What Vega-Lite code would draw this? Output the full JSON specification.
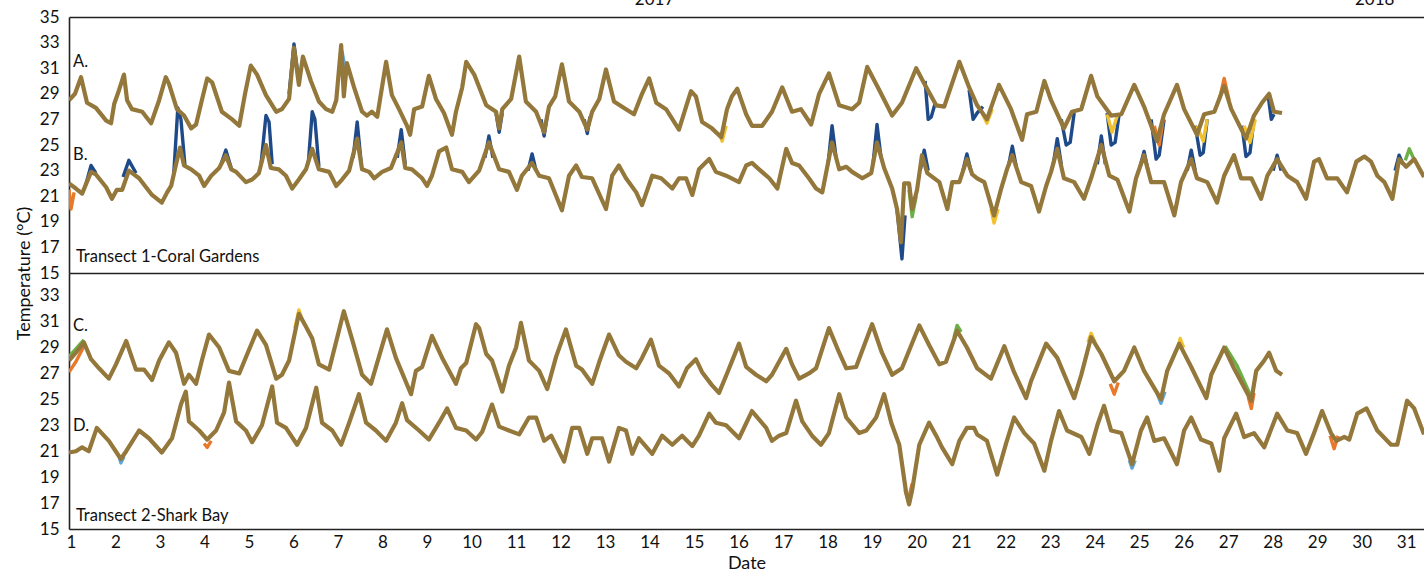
{
  "$schema": "https://vega.github.io/schema/vega-lite/v6.json",
  "padding": {"left": 15, "top": -10, "right": 0, "bottom": 0},
  "background": "white",
  "spacing": 0,
  "bounds": "flush",
  "config": {
    "view": {"stroke": null},
    "font": "Lato",
    "axis": {"labelFont": "Lato", "titleFont": "Lato", "labelFontSize": 17, "titleFontSize": 18, "labelColor": "#111", "titleColor": "#111", "titleFontWeight": "normal", "grid": false, "ticks": false, "tickSize": 0, "domainColor": "#222", "domainWidth": 1.6}
  },
  "datasets": {
    "main": [
      {"s":"A","d":0.955,"t":28.5},{"s":"A","d":1.09,"t":29.0},{"s":"A","d":1.225,"t":30.3},{"s":"A","d":1.36,"t":28.3},{"s":"A","d":1.56,"t":27.9},{"s":"A","d":1.79,"t":26.9},{"s":"A","d":1.90,"t":26.7},{"s":"A","d":1.97,"t":28.2},{"s":"A","d":2.08,"t":29.3},{"s":"A","d":2.19,"t":30.5},{"s":"A","d":2.26,"t":28.5},{"s":"A","d":2.37,"t":27.8},{"s":"A","d":2.60,"t":27.6},{"s":"A","d":2.80,"t":26.7},{"s":"A","d":2.98,"t":28.5},{"s":"A","d":3.13,"t":30.3},{"s":"A","d":3.20,"t":29.8},{"s":"A","d":3.38,"t":27.8},{"s":"A","d":3.54,"t":27.3},{"s":"A","d":3.70,"t":26.3},{"s":"A","d":3.81,"t":26.6},{"s":"A","d":3.94,"t":28.5},{"s":"A","d":4.06,"t":30.2},{"s":"A","d":4.17,"t":29.9},{"s":"A","d":4.39,"t":27.6},{"s":"A","d":4.62,"t":27.0},{"s":"A","d":4.78,"t":26.5},{"s":"A","d":4.91,"t":29.0},{"s":"A","d":5.04,"t":31.2},{"s":"A","d":5.18,"t":30.5},{"s":"A","d":5.38,"t":28.9},{"s":"A","d":5.61,"t":27.6},{"s":"A","d":5.74,"t":27.8},{"s":"A","d":5.90,"t":28.6},{"s":"A","d":6.01,"t":32.6},{"s":"A","d":6.12,"t":29.7},{"s":"A","d":6.21,"t":31.9},{"s":"A","d":6.39,"t":30.0},{"s":"A","d":6.57,"t":28.4},{"s":"A","d":6.73,"t":27.8},{"s":"A","d":6.87,"t":27.6},{"s":"A","d":6.96,"t":28.5},{"s":"A","d":7.07,"t":32.8},{"s":"A","d":7.13,"t":28.8},{"s":"A","d":7.20,"t":31.4},{"s":"A","d":7.36,"t":29.5},{"s":"A","d":7.54,"t":27.6},{"s":"A","d":7.65,"t":27.3},{"s":"A","d":7.76,"t":27.6},{"s":"A","d":7.88,"t":27.2},{"s":"A","d":8.08,"t":31.5},{"s":"A","d":8.21,"t":28.9},{"s":"A","d":8.37,"t":27.8},{"s":"A","d":8.55,"t":26.5},{"s":"A","d":8.62,"t":25.8},{"s":"A","d":8.71,"t":27.8},{"s":"A","d":8.89,"t":28.0},{"s":"A","d":9.04,"t":30.4},{"s":"A","d":9.20,"t":28.6},{"s":"A","d":9.38,"t":27.5},{"s":"A","d":9.56,"t":25.8},{"s":"A","d":9.65,"t":27.6},{"s":"A","d":9.79,"t":29.5},{"s":"A","d":9.88,"t":31.5},{"s":"A","d":10.06,"t":30.5},{"s":"A","d":10.33,"t":28.1},{"s":"A","d":10.55,"t":27.6},{"s":"A","d":10.62,"t":26.3},{"s":"A","d":10.69,"t":27.8},{"s":"A","d":10.89,"t":28.6},{"s":"A","d":11.07,"t":31.9},{"s":"A","d":11.22,"t":28.4},{"s":"A","d":11.45,"t":27.6},{"s":"A","d":11.63,"t":26.0},{"s":"A","d":11.74,"t":28.0},{"s":"A","d":11.88,"t":28.8},{"s":"A","d":12.03,"t":31.3},{"s":"A","d":12.19,"t":28.4},{"s":"A","d":12.42,"t":27.6},{"s":"A","d":12.60,"t":26.2},{"s":"A","d":12.71,"t":27.6},{"s":"A","d":12.87,"t":28.6},{"s":"A","d":13.02,"t":30.9},{"s":"A","d":13.20,"t":28.4},{"s":"A","d":13.47,"t":27.8},{"s":"A","d":13.65,"t":27.4},{"s":"A","d":13.83,"t":29.0},{"s":"A","d":13.99,"t":30.2},{"s":"A","d":14.15,"t":28.3},{"s":"A","d":14.37,"t":27.8},{"s":"A","d":14.66,"t":26.2},{"s":"A","d":14.82,"t":28.0},{"s":"A","d":14.93,"t":29.2},{"s":"A","d":15.04,"t":28.8},{"s":"A","d":15.18,"t":26.8},{"s":"A","d":15.40,"t":26.3},{"s":"A","d":15.61,"t":25.6},{"s":"A","d":15.74,"t":27.8},{"s":"A","d":15.85,"t":28.8},{"s":"A","d":15.97,"t":29.4},{"s":"A","d":16.17,"t":27.4},{"s":"A","d":16.30,"t":26.5},{"s":"A","d":16.53,"t":26.5},{"s":"A","d":16.75,"t":27.6},{"s":"A","d":16.98,"t":29.5},{"s":"A","d":17.20,"t":27.6},{"s":"A","d":17.40,"t":27.8},{"s":"A","d":17.63,"t":26.6},{"s":"A","d":17.81,"t":29.0},{"s":"A","d":18.03,"t":30.6},{"s":"A","d":18.26,"t":28.1},{"s":"A","d":18.55,"t":27.8},{"s":"A","d":18.71,"t":28.3},{"s":"A","d":18.89,"t":31.1},{"s":"A","d":19.16,"t":29.3},{"s":"A","d":19.45,"t":27.3},{"s":"A","d":19.67,"t":28.3},{"s":"A","d":19.99,"t":31.0},{"s":"A","d":20.17,"t":29.8},{"s":"A","d":20.44,"t":28.1},{"s":"A","d":20.62,"t":28.0},{"s":"A","d":20.96,"t":31.5},{"s":"A","d":21.18,"t":29.5},{"s":"A","d":21.36,"t":28.1},{"s":"A","d":21.58,"t":27.0},{"s":"A","d":21.85,"t":29.7},{"s":"A","d":22.12,"t":27.8},{"s":"A","d":22.37,"t":25.4},{"s":"A","d":22.48,"t":27.4},{"s":"A","d":22.69,"t":27.6},{"s":"A","d":22.87,"t":30.0},{"s":"A","d":23.02,"t":28.5},{"s":"A","d":23.31,"t":26.3},{"s":"A","d":23.49,"t":27.6},{"s":"A","d":23.70,"t":27.8},{"s":"A","d":23.92,"t":30.4},{"s":"A","d":24.06,"t":28.8},{"s":"A","d":24.37,"t":27.3},{"s":"A","d":24.60,"t":27.4},{"s":"A","d":24.89,"t":29.7},{"s":"A","d":25.11,"t":28.0},{"s":"A","d":25.40,"t":25.3},{"s":"A","d":25.56,"t":27.4},{"s":"A","d":25.85,"t":29.7},{"s":"A","d":26.01,"t":27.8},{"s":"A","d":26.30,"t":25.8},{"s":"A","d":26.46,"t":27.4},{"s":"A","d":26.69,"t":27.6},{"s":"A","d":26.91,"t":29.6},{"s":"A","d":27.07,"t":27.8},{"s":"A","d":27.40,"t":25.5},{"s":"A","d":27.58,"t":27.3},{"s":"A","d":27.76,"t":28.3},{"s":"A","d":27.92,"t":29.0},{"s":"A","d":28.03,"t":27.6},{"s":"A","d":28.21,"t":27.5},

      {"s":"B","d":0.955,"t":22.0},{"s":"B","d":1.11,"t":21.6},{"s":"B","d":1.25,"t":21.2},{"s":"B","d":1.45,"t":22.9},{"s":"B","d":1.56,"t":22.7},{"s":"B","d":1.79,"t":21.7},{"s":"B","d":1.92,"t":20.8},{"s":"B","d":2.03,"t":21.5},{"s":"B","d":2.15,"t":21.5},{"s":"B","d":2.30,"t":23.0},{"s":"B","d":2.53,"t":22.4},{"s":"B","d":2.82,"t":21.1},{"s":"B","d":3.04,"t":20.5},{"s":"B","d":3.16,"t":21.3},{"s":"B","d":3.25,"t":21.8},{"s":"B","d":3.36,"t":23.5},{"s":"B","d":3.45,"t":24.8},{"s":"B","d":3.54,"t":23.4},{"s":"B","d":3.70,"t":23.1},{"s":"B","d":3.88,"t":22.6},{"s":"B","d":3.99,"t":21.8},{"s":"B","d":4.15,"t":22.6},{"s":"B","d":4.33,"t":23.2},{"s":"B","d":4.48,"t":24.2},{"s":"B","d":4.60,"t":23.1},{"s":"B","d":4.71,"t":22.9},{"s":"B","d":4.93,"t":22.1},{"s":"B","d":5.07,"t":22.3},{"s":"B","d":5.22,"t":22.8},{"s":"B","d":5.38,"t":25.0},{"s":"B","d":5.49,"t":23.2},{"s":"B","d":5.67,"t":23.1},{"s":"B","d":5.83,"t":22.6},{"s":"B","d":5.97,"t":21.6},{"s":"B","d":6.12,"t":22.3},{"s":"B","d":6.28,"t":23.1},{"s":"B","d":6.42,"t":24.7},{"s":"B","d":6.57,"t":23.1},{"s":"B","d":6.80,"t":22.9},{"s":"B","d":6.96,"t":21.8},{"s":"B","d":7.09,"t":22.3},{"s":"B","d":7.25,"t":23.0},{"s":"B","d":7.43,"t":25.5},{"s":"B","d":7.54,"t":23.1},{"s":"B","d":7.70,"t":22.9},{"s":"B","d":7.81,"t":22.4},{"s":"B","d":7.99,"t":22.9},{"s":"B","d":8.19,"t":23.2},{"s":"B","d":8.42,"t":25.2},{"s":"B","d":8.51,"t":23.2},{"s":"B","d":8.66,"t":23.1},{"s":"B","d":8.89,"t":22.4},{"s":"B","d":9.00,"t":21.8},{"s":"B","d":9.11,"t":22.6},{"s":"B","d":9.27,"t":24.5},{"s":"B","d":9.43,"t":24.8},{"s":"B","d":9.56,"t":23.1},{"s":"B","d":9.79,"t":22.9},{"s":"B","d":9.94,"t":22.1},{"s":"B","d":10.17,"t":23.0},{"s":"B","d":10.39,"t":25.2},{"s":"B","d":10.62,"t":23.1},{"s":"B","d":10.84,"t":22.9},{"s":"B","d":11.02,"t":21.5},{"s":"B","d":11.13,"t":22.6},{"s":"B","d":11.36,"t":23.6},{"s":"B","d":11.52,"t":22.6},{"s":"B","d":11.74,"t":22.4},{"s":"B","d":12.03,"t":19.9},{"s":"B","d":12.19,"t":22.6},{"s":"B","d":12.35,"t":23.4},{"s":"B","d":12.48,"t":22.5},{"s":"B","d":12.71,"t":22.4},{"s":"B","d":13.02,"t":20.0},{"s":"B","d":13.16,"t":22.6},{"s":"B","d":13.31,"t":23.4},{"s":"B","d":13.47,"t":22.4},{"s":"B","d":13.70,"t":21.3},{"s":"B","d":13.83,"t":20.3},{"s":"B","d":14.06,"t":22.6},{"s":"B","d":14.26,"t":22.4},{"s":"B","d":14.51,"t":21.6},{"s":"B","d":14.66,"t":22.4},{"s":"B","d":14.82,"t":22.4},{"s":"B","d":14.96,"t":21.1},{"s":"B","d":15.11,"t":23.1},{"s":"B","d":15.34,"t":23.9},{"s":"B","d":15.49,"t":22.9},{"s":"B","d":15.72,"t":22.6},{"s":"B","d":16.01,"t":22.1},{"s":"B","d":16.17,"t":23.4},{"s":"B","d":16.30,"t":23.6},{"s":"B","d":16.46,"t":23.1},{"s":"B","d":16.69,"t":22.4},{"s":"B","d":16.87,"t":21.6},{"s":"B","d":17.07,"t":24.7},{"s":"B","d":17.20,"t":23.6},{"s":"B","d":17.36,"t":23.4},{"s":"B","d":17.58,"t":22.4},{"s":"B","d":17.74,"t":21.6},{"s":"B","d":17.88,"t":21.3},{"s":"B","d":18.10,"t":25.2},{"s":"B","d":18.26,"t":23.1},{"s":"B","d":18.42,"t":23.3},{"s":"B","d":18.55,"t":22.9},{"s":"B","d":18.78,"t":22.4},{"s":"B","d":18.98,"t":22.8},{"s":"B","d":19.11,"t":25.2},{"s":"B","d":19.27,"t":23.2},{"s":"B","d":19.45,"t":21.6},{"s":"B","d":19.56,"t":20.0},{"s":"B","d":19.65,"t":17.4},{"s":"B","d":19.72,"t":22.0},{"s":"B","d":19.83,"t":22.0},{"s":"B","d":19.90,"t":20.0},{"s":"B","d":20.01,"t":21.5},{"s":"B","d":20.12,"t":24.2},{"s":"B","d":20.24,"t":22.8},{"s":"B","d":20.51,"t":22.1},{"s":"B","d":20.69,"t":20.0},{"s":"B","d":20.80,"t":22.1},{"s":"B","d":20.96,"t":22.1},{"s":"B","d":21.13,"t":23.9},{"s":"B","d":21.25,"t":22.7},{"s":"B","d":21.36,"t":22.4},{"s":"B","d":21.52,"t":22.1},{"s":"B","d":21.74,"t":19.5},{"s":"B","d":21.90,"t":21.6},{"s":"B","d":22.03,"t":23.1},{"s":"B","d":22.15,"t":24.2},{"s":"B","d":22.35,"t":22.1},{"s":"B","d":22.57,"t":21.8},{"s":"B","d":22.75,"t":19.8},{"s":"B","d":22.91,"t":21.8},{"s":"B","d":23.02,"t":22.9},{"s":"B","d":23.16,"t":24.7},{"s":"B","d":23.31,"t":22.4},{"s":"B","d":23.54,"t":22.1},{"s":"B","d":23.76,"t":20.8},{"s":"B","d":23.92,"t":22.4},{"s":"B","d":24.15,"t":25.0},{"s":"B","d":24.33,"t":22.6},{"s":"B","d":24.51,"t":22.3},{"s":"B","d":24.78,"t":19.8},{"s":"B","d":24.93,"t":22.4},{"s":"B","d":25.11,"t":24.2},{"s":"B","d":25.27,"t":22.1},{"s":"B","d":25.56,"t":22.1},{"s":"B","d":25.79,"t":19.5},{"s":"B","d":25.94,"t":22.1},{"s":"B","d":26.17,"t":23.9},{"s":"B","d":26.30,"t":22.4},{"s":"B","d":26.53,"t":22.1},{"s":"B","d":26.75,"t":20.5},{"s":"B","d":26.91,"t":22.6},{"s":"B","d":27.13,"t":24.2},{"s":"B","d":27.29,"t":22.4},{"s":"B","d":27.52,"t":22.4},{"s":"B","d":27.74,"t":20.8},{"s":"B","d":27.88,"t":22.6},{"s":"B","d":28.10,"t":23.9},{"s":"B","d":28.33,"t":22.6},{"s":"B","d":28.55,"t":22.1},{"s":"B","d":28.75,"t":20.8},{"s":"B","d":28.93,"t":23.7},{"s":"B","d":29.04,"t":23.9},{"s":"B","d":29.22,"t":22.4},{"s":"B","d":29.45,"t":22.4},{"s":"B","d":29.67,"t":21.3},{"s":"B","d":29.88,"t":23.7},{"s":"B","d":30.06,"t":24.1},{"s":"B","d":30.21,"t":23.7},{"s":"B","d":30.35,"t":22.6},{"s":"B","d":30.51,"t":22.1},{"s":"B","d":30.69,"t":20.8},{"s":"B","d":30.84,"t":23.9},{"s":"B","d":31.00,"t":23.3},{"s":"B","d":31.18,"t":23.9},{"s":"B","d":31.40,"t":22.5},

      {"s":"C","d":0.955,"t":28.0},{"s":"C","d":1.11,"t":28.6},{"s":"C","d":1.29,"t":29.4},{"s":"C","d":1.45,"t":28.1},{"s":"C","d":1.63,"t":27.4},{"s":"C","d":1.85,"t":26.6},{"s":"C","d":2.01,"t":27.7},{"s":"C","d":2.24,"t":29.5},{"s":"C","d":2.46,"t":27.3},{"s":"C","d":2.64,"t":27.3},{"s":"C","d":2.82,"t":26.5},{"s":"C","d":2.98,"t":28.0},{"s":"C","d":3.20,"t":29.4},{"s":"C","d":3.36,"t":28.6},{"s":"C","d":3.54,"t":26.2},{"s":"C","d":3.65,"t":26.9},{"s":"C","d":3.81,"t":26.2},{"s":"C","d":3.94,"t":28.0},{"s":"C","d":4.10,"t":30.0},{"s":"C","d":4.33,"t":29.0},{"s":"C","d":4.55,"t":27.2},{"s":"C","d":4.78,"t":27.0},{"s":"C","d":4.96,"t":28.5},{"s":"C","d":5.18,"t":30.3},{"s":"C","d":5.38,"t":29.2},{"s":"C","d":5.61,"t":26.6},{"s":"C","d":5.74,"t":26.9},{"s":"C","d":5.90,"t":28.0},{"s":"C","d":6.12,"t":31.6},{"s":"C","d":6.28,"t":30.6},{"s":"C","d":6.42,"t":29.7},{"s":"C","d":6.57,"t":27.7},{"s":"C","d":6.80,"t":27.3},{"s":"C","d":7.13,"t":31.8},{"s":"C","d":7.31,"t":29.7},{"s":"C","d":7.54,"t":26.9},{"s":"C","d":7.74,"t":26.2},{"s":"C","d":7.92,"t":28.3},{"s":"C","d":8.10,"t":30.4},{"s":"C","d":8.30,"t":28.2},{"s":"C","d":8.64,"t":25.4},{"s":"C","d":8.75,"t":27.2},{"s":"C","d":8.89,"t":27.5},{"s":"C","d":9.11,"t":29.9},{"s":"C","d":9.34,"t":28.2},{"s":"C","d":9.65,"t":26.2},{"s":"C","d":9.76,"t":27.4},{"s":"C","d":9.88,"t":27.8},{"s":"C","d":10.10,"t":30.8},{"s":"C","d":10.17,"t":30.5},{"s":"C","d":10.33,"t":28.5},{"s":"C","d":10.46,"t":28.0},{"s":"C","d":10.69,"t":25.6},{"s":"C","d":10.84,"t":27.6},{"s":"C","d":11.00,"t":29.0},{"s":"C","d":11.11,"t":30.9},{"s":"C","d":11.29,"t":28.0},{"s":"C","d":11.52,"t":27.2},{"s":"C","d":11.70,"t":25.8},{"s":"C","d":11.90,"t":28.3},{"s":"C","d":12.12,"t":30.4},{"s":"C","d":12.35,"t":27.6},{"s":"C","d":12.48,"t":27.3},{"s":"C","d":12.71,"t":26.2},{"s":"C","d":12.87,"t":27.9},{"s":"C","d":13.09,"t":30.0},{"s":"C","d":13.31,"t":28.4},{"s":"C","d":13.47,"t":27.9},{"s":"C","d":13.70,"t":27.4},{"s":"C","d":13.83,"t":28.2},{"s":"C","d":14.03,"t":29.6},{"s":"C","d":14.21,"t":27.6},{"s":"C","d":14.44,"t":27.0},{"s":"C","d":14.66,"t":26.0},{"s":"C","d":14.84,"t":27.4},{"s":"C","d":15.04,"t":28.1},{"s":"C","d":15.18,"t":27.1},{"s":"C","d":15.40,"t":26.1},{"s":"C","d":15.56,"t":25.5},{"s":"C","d":15.74,"t":27.0},{"s":"C","d":16.01,"t":29.3},{"s":"C","d":16.17,"t":27.5},{"s":"C","d":16.39,"t":26.9},{"s":"C","d":16.62,"t":26.4},{"s":"C","d":16.75,"t":26.9},{"s":"C","d":17.07,"t":28.9},{"s":"C","d":17.20,"t":27.7},{"s":"C","d":17.36,"t":26.6},{"s":"C","d":17.58,"t":27.0},{"s":"C","d":17.74,"t":27.4},{"s":"C","d":18.03,"t":30.5},{"s":"C","d":18.26,"t":28.6},{"s":"C","d":18.42,"t":27.4},{"s":"C","d":18.64,"t":27.5},{"s":"C","d":19.00,"t":30.8},{"s":"C","d":19.22,"t":28.6},{"s":"C","d":19.45,"t":26.9},{"s":"C","d":19.67,"t":27.4},{"s":"C","d":20.06,"t":30.7},{"s":"C","d":20.28,"t":29.2},{"s":"C","d":20.51,"t":27.7},{"s":"C","d":20.66,"t":27.9},{"s":"C","d":20.91,"t":30.3},{"s":"C","d":21.13,"t":29.0},{"s":"C","d":21.36,"t":27.4},{"s":"C","d":21.67,"t":26.6},{"s":"C","d":21.97,"t":29.1},{"s":"C","d":22.19,"t":27.1},{"s":"C","d":22.46,"t":25.1},{"s":"C","d":22.57,"t":26.4},{"s":"C","d":22.91,"t":29.3},{"s":"C","d":23.16,"t":28.2},{"s":"C","d":23.54,"t":25.1},{"s":"C","d":23.70,"t":26.9},{"s":"C","d":23.92,"t":29.8},{"s":"C","d":24.15,"t":28.5},{"s":"C","d":24.44,"t":26.4},{"s":"C","d":24.66,"t":27.2},{"s":"C","d":24.89,"t":29.0},{"s":"C","d":25.11,"t":27.2},{"s":"C","d":25.49,"t":25.0},{"s":"C","d":25.63,"t":27.2},{"s":"C","d":25.90,"t":29.3},{"s":"C","d":26.17,"t":27.5},{"s":"C","d":26.51,"t":25.1},{"s":"C","d":26.62,"t":26.9},{"s":"C","d":26.91,"t":29.0},{"s":"C","d":27.13,"t":27.4},{"s":"C","d":27.52,"t":24.9},{"s":"C","d":27.63,"t":27.2},{"s":"C","d":27.81,"t":28.0},{"s":"C","d":27.92,"t":28.6},{"s":"C","d":28.08,"t":27.2},{"s":"C","d":28.21,"t":26.9},

      {"s":"D","d":0.955,"t":20.9},{"s":"D","d":1.11,"t":21.0},{"s":"D","d":1.25,"t":21.3},{"s":"D","d":1.40,"t":21.0},{"s":"D","d":1.58,"t":22.8},{"s":"D","d":1.85,"t":21.8},{"s":"D","d":2.12,"t":20.4},{"s":"D","d":2.24,"t":21.0},{"s":"D","d":2.53,"t":22.6},{"s":"D","d":2.75,"t":22.0},{"s":"D","d":3.04,"t":20.9},{"s":"D","d":3.27,"t":22.0},{"s":"D","d":3.47,"t":24.6},{"s":"D","d":3.58,"t":25.6},{"s":"D","d":3.65,"t":23.3},{"s":"D","d":3.88,"t":22.6},{"s":"D","d":4.06,"t":21.9},{"s":"D","d":4.26,"t":22.6},{"s":"D","d":4.44,"t":24.0},{"s":"D","d":4.55,"t":26.3},{"s":"D","d":4.71,"t":23.3},{"s":"D","d":4.93,"t":22.6},{"s":"D","d":5.07,"t":21.7},{"s":"D","d":5.29,"t":23.0},{"s":"D","d":5.52,"t":26.0},{"s":"D","d":5.63,"t":23.2},{"s":"D","d":5.83,"t":22.8},{"s":"D","d":6.08,"t":21.5},{"s":"D","d":6.28,"t":22.8},{"s":"D","d":6.51,"t":25.9},{"s":"D","d":6.64,"t":23.2},{"s":"D","d":6.87,"t":22.6},{"s":"D","d":7.07,"t":21.5},{"s":"D","d":7.25,"t":23.2},{"s":"D","d":7.47,"t":25.4},{"s":"D","d":7.63,"t":23.2},{"s":"D","d":7.85,"t":22.6},{"s":"D","d":8.08,"t":21.8},{"s":"D","d":8.30,"t":23.2},{"s":"D","d":8.44,"t":24.7},{"s":"D","d":8.55,"t":23.4},{"s":"D","d":8.82,"t":22.6},{"s":"D","d":9.04,"t":21.9},{"s":"D","d":9.27,"t":23.2},{"s":"D","d":9.45,"t":24.3},{"s":"D","d":9.65,"t":22.8},{"s":"D","d":9.88,"t":22.6},{"s":"D","d":10.10,"t":21.9},{"s":"D","d":10.24,"t":22.5},{"s":"D","d":10.46,"t":24.6},{"s":"D","d":10.62,"t":22.9},{"s":"D","d":10.84,"t":22.6},{"s":"D","d":11.07,"t":22.3},{"s":"D","d":11.29,"t":23.6},{"s":"D","d":11.45,"t":23.6},{"s":"D","d":11.63,"t":21.8},{"s":"D","d":11.79,"t":22.2},{"s":"D","d":12.08,"t":20.2},{"s":"D","d":12.26,"t":22.8},{"s":"D","d":12.42,"t":22.8},{"s":"D","d":12.60,"t":20.8},{"s":"D","d":12.71,"t":22.0},{"s":"D","d":12.93,"t":22.0},{"s":"D","d":13.09,"t":20.2},{"s":"D","d":13.31,"t":22.8},{"s":"D","d":13.47,"t":22.6},{"s":"D","d":13.61,"t":20.8},{"s":"D","d":13.76,"t":22.0},{"s":"D","d":14.06,"t":20.8},{"s":"D","d":14.28,"t":22.2},{"s":"D","d":14.51,"t":21.5},{"s":"D","d":14.73,"t":22.2},{"s":"D","d":14.96,"t":21.4},{"s":"D","d":15.11,"t":22.2},{"s":"D","d":15.34,"t":23.9},{"s":"D","d":15.49,"t":23.2},{"s":"D","d":15.72,"t":23.0},{"s":"D","d":16.01,"t":22.0},{"s":"D","d":16.30,"t":24.1},{"s":"D","d":16.62,"t":22.8},{"s":"D","d":16.75,"t":21.8},{"s":"D","d":16.91,"t":22.2},{"s":"D","d":17.07,"t":22.4},{"s":"D","d":17.29,"t":24.9},{"s":"D","d":17.43,"t":23.3},{"s":"D","d":17.65,"t":22.2},{"s":"D","d":17.85,"t":21.5},{"s":"D","d":18.03,"t":22.4},{"s":"D","d":18.26,"t":25.4},{"s":"D","d":18.42,"t":23.6},{"s":"D","d":18.71,"t":22.4},{"s":"D","d":18.87,"t":22.6},{"s":"D","d":19.09,"t":23.6},{"s":"D","d":19.27,"t":25.4},{"s":"D","d":19.43,"t":23.2},{"s":"D","d":19.61,"t":21.5},{"s":"D","d":19.76,"t":17.9},{"s":"D","d":19.83,"t":16.9},{"s":"D","d":19.90,"t":18.0},{"s":"D","d":20.06,"t":21.5},{"s":"D","d":20.28,"t":23.2},{"s":"D","d":20.44,"t":22.2},{"s":"D","d":20.57,"t":21.3},{"s":"D","d":20.80,"t":20.0},{"s":"D","d":20.96,"t":21.8},{"s":"D","d":21.13,"t":22.8},{"s":"D","d":21.29,"t":22.8},{"s":"D","d":21.36,"t":22.3},{"s":"D","d":21.58,"t":21.8},{"s":"D","d":21.81,"t":19.2},{"s":"D","d":22.01,"t":21.6},{"s":"D","d":22.19,"t":23.6},{"s":"D","d":22.42,"t":22.4},{"s":"D","d":22.64,"t":21.6},{"s":"D","d":22.87,"t":19.5},{"s":"D","d":23.02,"t":21.8},{"s":"D","d":23.20,"t":24.1},{"s":"D","d":23.38,"t":22.6},{"s":"D","d":23.70,"t":22.1},{"s":"D","d":23.88,"t":20.8},{"s":"D","d":24.06,"t":23.0},{"s":"D","d":24.21,"t":24.5},{"s":"D","d":24.37,"t":22.6},{"s":"D","d":24.60,"t":22.4},{"s":"D","d":24.84,"t":20.0},{"s":"D","d":25.04,"t":22.6},{"s":"D","d":25.18,"t":23.6},{"s":"D","d":25.34,"t":21.8},{"s":"D","d":25.56,"t":22.0},{"s":"D","d":25.85,"t":20.0},{"s":"D","d":26.01,"t":22.6},{"s":"D","d":26.17,"t":23.6},{"s":"D","d":26.39,"t":21.9},{"s":"D","d":26.62,"t":21.6},{"s":"D","d":26.80,"t":19.5},{"s":"D","d":26.91,"t":22.0},{"s":"D","d":27.18,"t":23.9},{"s":"D","d":27.36,"t":22.1},{"s":"D","d":27.58,"t":22.4},{"s":"D","d":27.81,"t":21.3},{"s":"D","d":28.10,"t":23.9},{"s":"D","d":28.33,"t":22.6},{"s":"D","d":28.55,"t":22.4},{"s":"D","d":28.75,"t":20.8},{"s":"D","d":28.93,"t":22.4},{"s":"D","d":29.11,"t":24.1},{"s":"D","d":29.31,"t":22.4},{"s":"D","d":29.43,"t":21.8},{"s":"D","d":29.61,"t":22.1},{"s":"D","d":29.72,"t":21.9},{"s":"D","d":29.90,"t":23.9},{"s":"D","d":30.11,"t":24.3},{"s":"D","d":30.35,"t":22.6},{"s":"D","d":30.66,"t":21.5},{"s":"D","d":30.80,"t":21.5},{"s":"D","d":31.02,"t":24.9},{"s":"D","d":31.18,"t":24.3},{"s":"D","d":31.40,"t":22.3}
    ],
    "fringe": [
      {"g":"a1","c":"blue","s":"A","d":20.19,"t":30.0},{"g":"a1","c":"blue","s":"A","d":20.26,"t":27.0},{"g":"a1","c":"blue","s":"A","d":20.33,"t":27.2},{"g":"a1","c":"blue","s":"A","d":20.42,"t":28.3},
      {"g":"a2","c":"blue","s":"A","d":21.18,"t":29.3},{"g":"a2","c":"blue","s":"A","d":21.27,"t":27.0},{"g":"a2","c":"blue","s":"A","d":21.36,"t":27.5},{"g":"a2","c":"blue","s":"A","d":21.49,"t":28.0},
      {"g":"a3","c":"blue","s":"A","d":23.25,"t":27.0},{"g":"a3","c":"blue","s":"A","d":23.36,"t":25.0},{"g":"a3","c":"blue","s":"A","d":23.45,"t":25.2},{"g":"a3","c":"blue","s":"A","d":23.54,"t":27.5},
      {"g":"a4","c":"blue","s":"A","d":24.28,"t":27.5},{"g":"a4","c":"blue","s":"A","d":24.37,"t":25.0},{"g":"a4","c":"blue","s":"A","d":24.46,"t":25.2},{"g":"a4","c":"blue","s":"A","d":24.55,"t":27.4},
      {"g":"a5","c":"blue","s":"A","d":25.27,"t":27.0},{"g":"a5","c":"blue","s":"A","d":25.38,"t":23.9},{"g":"a5","c":"blue","s":"A","d":25.45,"t":24.2},{"g":"a5","c":"blue","s":"A","d":25.56,"t":27.0},
      {"g":"a6","c":"blue","s":"A","d":26.26,"t":26.5},{"g":"a6","c":"blue","s":"A","d":26.37,"t":24.2},{"g":"a6","c":"blue","s":"A","d":26.44,"t":24.4},{"g":"a6","c":"blue","s":"A","d":26.53,"t":27.0},
      {"g":"a7","c":"blue","s":"A","d":27.31,"t":26.5},{"g":"a7","c":"blue","s":"A","d":27.40,"t":24.1},{"g":"a7","c":"blue","s":"A","d":27.49,"t":24.4},{"g":"a7","c":"blue","s":"A","d":27.58,"t":27.0},
      {"g":"a8","c":"blue","s":"A","d":27.90,"t":28.8},{"g":"a8","c":"blue","s":"A","d":27.97,"t":27.0},{"g":"a8","c":"blue","s":"A","d":28.03,"t":27.4},
      {"g":"a9","c":"yellow","s":"A","d":21.47,"t":27.5},{"g":"a9","c":"yellow","s":"A","d":21.58,"t":26.7},{"g":"a9","c":"yellow","s":"A","d":21.70,"t":27.8},
      {"g":"a10","c":"yellow","s":"A","d":24.28,"t":27.4},{"g":"a10","c":"yellow","s":"A","d":24.39,"t":26.0},{"g":"a10","c":"yellow","s":"A","d":24.51,"t":27.3},
      {"g":"a11","c":"orange","s":"A","d":25.34,"t":26.5},{"g":"a11","c":"orange","s":"A","d":25.45,"t":25.0},{"g":"a11","c":"orange","s":"A","d":25.54,"t":27.0},
      {"g":"a12","c":"yellow","s":"A","d":26.30,"t":26.5},{"g":"a12","c":"yellow","s":"A","d":26.44,"t":25.3},{"g":"a12","c":"yellow","s":"A","d":26.53,"t":27.0},
      {"g":"a13","c":"yellow","s":"A","d":27.36,"t":26.5},{"g":"a13","c":"yellow","s":"A","d":27.49,"t":25.2},{"g":"a13","c":"yellow","s":"A","d":27.61,"t":27.0},
      {"g":"a14","c":"orange","s":"A","d":26.80,"t":28.5},{"g":"a14","c":"orange","s":"A","d":26.91,"t":30.2},{"g":"a14","c":"orange","s":"A","d":27.02,"t":28.5},
      {"g":"a16","c":"blue","s":"A","d":5.90,"t":29.0},{"g":"a16","c":"blue","s":"A","d":6.01,"t":32.9},{"g":"a16","c":"blue","s":"A","d":6.10,"t":30.5},
      {"g":"a17","c":"lightblue","s":"A","d":7.02,"t":30.5},{"g":"a17","c":"lightblue","s":"A","d":7.09,"t":32.3},{"g":"a17","c":"lightblue","s":"A","d":7.16,"t":31.0},
      {"g":"a18","c":"blue","s":"A","d":10.55,"t":27.5},{"g":"a18","c":"blue","s":"A","d":10.62,"t":26.0},{"g":"a18","c":"blue","s":"A","d":10.69,"t":27.5},
      {"g":"a19","c":"blue","s":"A","d":11.56,"t":27.0},{"g":"a19","c":"blue","s":"A","d":11.63,"t":25.7},{"g":"a19","c":"blue","s":"A","d":11.70,"t":27.3},
      {"g":"a20","c":"blue","s":"A","d":12.53,"t":27.0},{"g":"a20","c":"blue","s":"A","d":12.60,"t":25.9},{"g":"a20","c":"blue","s":"A","d":12.66,"t":27.2},
      {"g":"a21","c":"yellow","s":"A","d":15.56,"t":26.0},{"g":"a21","c":"yellow","s":"A","d":15.63,"t":25.3},{"g":"a21","c":"yellow","s":"A","d":15.72,"t":26.5},

      {"g":"b1","c":"blue","s":"B","d":1.34,"t":22.0},{"g":"b1","c":"blue","s":"B","d":1.45,"t":23.4},{"g":"b1","c":"blue","s":"B","d":1.56,"t":22.8},
      {"g":"b2","c":"blue","s":"B","d":2.17,"t":22.5},{"g":"b2","c":"blue","s":"B","d":2.30,"t":23.8},{"g":"b2","c":"blue","s":"B","d":2.46,"t":22.8},
      {"g":"b3","c":"blue","s":"B","d":3.31,"t":22.8},{"g":"b3","c":"blue","s":"B","d":3.40,"t":27.9},{"g":"b3","c":"blue","s":"B","d":3.47,"t":27.0},{"g":"b3","c":"blue","s":"B","d":3.56,"t":23.4},
      {"g":"b4","c":"blue","s":"B","d":5.27,"t":23.5},{"g":"b4","c":"blue","s":"B","d":5.38,"t":27.3},{"g":"b4","c":"blue","s":"B","d":5.45,"t":26.8},{"g":"b4","c":"blue","s":"B","d":5.52,"t":23.5},
      {"g":"b5","c":"blue","s":"B","d":6.33,"t":23.5},{"g":"b5","c":"blue","s":"B","d":6.42,"t":27.6},{"g":"b5","c":"blue","s":"B","d":6.48,"t":27.0},{"g":"b5","c":"blue","s":"B","d":6.57,"t":23.3},
      {"g":"b6","c":"blue","s":"B","d":7.34,"t":24.0},{"g":"b6","c":"blue","s":"B","d":7.43,"t":26.8},{"g":"b6","c":"blue","s":"B","d":7.52,"t":23.6},
      {"g":"b7","c":"blue","s":"B","d":8.33,"t":24.0},{"g":"b7","c":"blue","s":"B","d":8.42,"t":26.2},{"g":"b7","c":"blue","s":"B","d":8.51,"t":23.5},
      {"g":"b8","c":"blue","s":"B","d":18.01,"t":23.5},{"g":"b8","c":"blue","s":"B","d":18.10,"t":26.5},{"g":"b8","c":"blue","s":"B","d":18.19,"t":24.0},
      {"g":"b9","c":"blue","s":"B","d":19.02,"t":23.5},{"g":"b9","c":"blue","s":"B","d":19.11,"t":26.6},{"g":"b9","c":"blue","s":"B","d":19.20,"t":24.0},
      {"g":"b10","c":"blue","s":"B","d":19.56,"t":20.0},{"g":"b10","c":"blue","s":"B","d":19.67,"t":16.1},{"g":"b10","c":"blue","s":"B","d":19.74,"t":19.5},
      {"g":"b11","c":"blue","s":"B","d":23.07,"t":23.5},{"g":"b11","c":"blue","s":"B","d":23.16,"t":25.5},{"g":"b11","c":"blue","s":"B","d":23.25,"t":23.5},
      {"g":"b12","c":"blue","s":"B","d":24.06,"t":23.5},{"g":"b12","c":"blue","s":"B","d":24.15,"t":25.7},{"g":"b12","c":"blue","s":"B","d":24.24,"t":23.5},
      {"g":"b13","c":"blue","s":"B","d":22.06,"t":23.3},{"g":"b13","c":"blue","s":"B","d":22.15,"t":24.9},{"g":"b13","c":"blue","s":"B","d":22.24,"t":23.3},
      {"g":"b14","c":"blue","s":"B","d":26.08,"t":23.0},{"g":"b14","c":"blue","s":"B","d":26.17,"t":24.6},{"g":"b14","c":"blue","s":"B","d":26.26,"t":23.0},
      {"g":"b15","c":"orange","s":"B","d":0.955,"t":21.5},{"g":"b15","c":"orange","s":"B","d":1.0,"t":20.0},{"g":"b15","c":"orange","s":"B","d":1.07,"t":21.3},
      {"g":"b16","c":"yellow","s":"B","d":21.67,"t":20.0},{"g":"b16","c":"yellow","s":"B","d":21.74,"t":18.9},{"g":"b16","c":"yellow","s":"B","d":21.83,"t":20.0},
      {"g":"b18","c":"green","s":"B","d":19.83,"t":21.5},{"g":"b18","c":"green","s":"B","d":19.90,"t":19.4},{"g":"b18","c":"green","s":"B","d":19.99,"t":21.0},
      {"g":"b19","c":"blue","s":"B","d":4.37,"t":23.5},{"g":"b19","c":"blue","s":"B","d":4.48,"t":24.6},{"g":"b19","c":"blue","s":"B","d":4.60,"t":23.2},
      {"g":"b20","c":"blue","s":"B","d":10.30,"t":24.0},{"g":"b20","c":"blue","s":"B","d":10.39,"t":25.7},{"g":"b20","c":"blue","s":"B","d":10.48,"t":24.0},
      {"g":"b21","c":"blue","s":"B","d":11.27,"t":23.0},{"g":"b21","c":"blue","s":"B","d":11.36,"t":24.3},{"g":"b21","c":"blue","s":"B","d":11.45,"t":23.0},
      {"g":"b22","c":"blue","s":"B","d":21.04,"t":23.0},{"g":"b22","c":"blue","s":"B","d":21.13,"t":24.3},{"g":"b22","c":"blue","s":"B","d":21.22,"t":23.0},
      {"g":"b23","c":"blue","s":"B","d":25.02,"t":23.3},{"g":"b23","c":"blue","s":"B","d":25.11,"t":24.5},{"g":"b23","c":"blue","s":"B","d":25.20,"t":23.0},
      {"g":"b24","c":"blue","s":"B","d":28.01,"t":23.0},{"g":"b24","c":"blue","s":"B","d":28.10,"t":24.2},{"g":"b24","c":"blue","s":"B","d":28.19,"t":23.0},
      {"g":"b25","c":"blue","s":"B","d":30.75,"t":23.0},{"g":"b25","c":"blue","s":"B","d":30.84,"t":24.2},{"g":"b25","c":"blue","s":"B","d":30.93,"t":23.5},
      {"g":"b26","c":"green","s":"B","d":30.98,"t":23.8},{"g":"b26","c":"green","s":"B","d":31.07,"t":24.7},{"g":"b26","c":"green","s":"B","d":31.16,"t":24.0},
      {"g":"b27","c":"blue","s":"B","d":20.08,"t":23.0},{"g":"b27","c":"blue","s":"B","d":20.17,"t":24.6},{"g":"b27","c":"blue","s":"B","d":20.26,"t":23.0},

      {"g":"c1","c":"green","s":"C","d":26.93,"t":29.1},{"g":"c1","c":"green","s":"C","d":27.20,"t":27.6},{"g":"c1","c":"green","s":"C","d":27.49,"t":25.4},
      {"g":"c2","c":"orange","s":"C","d":27.45,"t":25.2},{"g":"c2","c":"orange","s":"C","d":27.52,"t":24.3},{"g":"c2","c":"orange","s":"C","d":27.58,"t":25.5},
      {"g":"c3","c":"green","s":"C","d":0.955,"t":28.3},{"g":"c3","c":"green","s":"C","d":1.11,"t":28.9},{"g":"c3","c":"green","s":"C","d":1.29,"t":29.6},
      {"g":"c4","c":"orange","s":"C","d":0.955,"t":27.1},{"g":"c4","c":"orange","s":"C","d":1.11,"t":27.9},{"g":"c4","c":"orange","s":"C","d":1.29,"t":29.1},
      {"g":"c5","c":"yellow","s":"C","d":6.03,"t":30.5},{"g":"c5","c":"yellow","s":"C","d":6.12,"t":31.9},{"g":"c5","c":"yellow","s":"C","d":6.21,"t":31.0},
      {"g":"c6","c":"green","s":"C","d":20.84,"t":29.8},{"g":"c6","c":"green","s":"C","d":20.91,"t":30.7},{"g":"c6","c":"green","s":"C","d":21.0,"t":30.2},
      {"g":"c7","c":"yellow","s":"C","d":25.88,"t":29.0},{"g":"c7","c":"yellow","s":"C","d":25.92,"t":29.7},{"g":"c7","c":"yellow","s":"C","d":26.0,"t":29.0},
      {"g":"c8","c":"yellow","s":"C","d":23.85,"t":29.4},{"g":"c8","c":"yellow","s":"C","d":23.92,"t":30.1},{"g":"c8","c":"yellow","s":"C","d":24.01,"t":29.4},
      {"g":"c9","c":"orange","s":"C","d":24.35,"t":26.2},{"g":"c9","c":"orange","s":"C","d":24.44,"t":25.4},{"g":"c9","c":"orange","s":"C","d":24.53,"t":26.3},
      {"g":"c10","c":"lightblue","s":"C","d":25.40,"t":25.5},{"g":"c10","c":"lightblue","s":"C","d":25.49,"t":24.7},{"g":"c10","c":"lightblue","s":"C","d":25.58,"t":25.6},

      {"g":"d1","c":"orange","s":"D","d":29.29,"t":22.2},{"g":"d1","c":"orange","s":"D","d":29.38,"t":21.2},{"g":"d1","c":"orange","s":"D","d":29.47,"t":22.2},
      {"g":"d2","c":"orange","s":"D","d":3.99,"t":21.6},{"g":"d2","c":"orange","s":"D","d":4.06,"t":21.3},{"g":"d2","c":"orange","s":"D","d":4.15,"t":21.8},
      {"g":"d3","c":"lightblue","s":"D","d":2.08,"t":20.6},{"g":"d3","c":"lightblue","s":"D","d":2.12,"t":20.1},{"g":"d3","c":"lightblue","s":"D","d":2.19,"t":20.6},
      {"g":"d6","c":"lightblue","s":"D","d":24.78,"t":20.3},{"g":"d6","c":"lightblue","s":"D","d":24.84,"t":19.7},{"g":"d6","c":"lightblue","s":"D","d":24.91,"t":20.3},
      {"g":"d7","c":"orange","s":"D","d":19.74,"t":18.0},{"g":"d7","c":"orange","s":"D","d":19.81,"t":17.2},{"g":"d7","c":"orange","s":"D","d":19.90,"t":18.5}
    ],
    "labels": [
      {"s":"top","d":1.045,"t":31.5,"label":"A."},
      {"s":"top","d":1.045,"t":24.2,"label":"B."},
      {"s":"top","d":1.11,"t":16.25,"label":"Transect 1-Coral Gardens"},
      {"s":"bot","d":1.045,"t":30.66,"label":"C."},
      {"s":"bot","d":1.045,"t":22.95,"label":"D."},
      {"s":"bot","d":1.11,"t":16.0,"label":"Transect 2-Shark Bay"}
    ]
  },
  "vconcat": [
    {
      "width": 1355,
      "height": 256,
      "encoding": {
        "y": {"field": "t", "type": "quantitative", "scale": {"domain": [15, 35], "nice": false, "zero": false},
              "axis": {"orient": "left", "values": [15,17,19,21,23,25,27,29,31,33,35], "labelPadding": 10, "title": "Temperature (°C)", "titleX": -45, "titleY": 256, "titleAlign": "center", "titleBaseline": "middle", "titleAngle": -90}}
      },
      "layer": [
        {
          "data": {"name": "fringe"},
          "transform": [{"filter": "datum.s == 'A' || datum.s == 'B'"}],
          "mark": {"type": "line", "strokeWidth": 3.4, "clip": true, "strokeJoin": "round"},
          "encoding": {
            "x": {"field": "d", "type": "quantitative", "scale": {"domain": [0.955, 31.4], "nice": false, "zero": false},
                  "axis": {"orient": "top", "values": [14.1, 30.28], "labelExpr": "datum.value < 20 ? '2017' : '2018'", "labelPadding": 9, "title": null, "domain": true}},
            "detail": {"field": "g"},
            "color": {"field": "c", "type": "nominal", "legend": null,
                      "scale": {"domain": ["blue","orange","yellow","lightblue","green","gray"], "range": ["#1F4A8A","#E8792B","#F2C12E","#5DA5DA","#6BAF47","#A0A0A0"]}}
          }
        },
        {
          "data": {"name": "main"},
          "transform": [{"filter": "datum.s == 'A' || datum.s == 'B'"}],
          "mark": {"type": "line", "strokeWidth": 4.2, "color": "#94773A", "clip": true, "strokeJoin": "round"},
          "encoding": {
            "x": {"field": "d", "type": "quantitative", "scale": {"domain": [0.955, 31.4], "nice": false, "zero": false},
                  "axis": {"orient": "bottom", "labels": false, "title": null, "domain": true}},
            "detail": {"field": "s"}
          }
        },
        {
          "data": {"name": "labels"},
          "transform": [{"filter": "datum.s == 'top'"}],
          "mark": {"type": "text", "align": "left", "baseline": "middle", "font": "Lato", "fontSize": 16.5, "color": "#111"},
          "encoding": {
            "x": {"field": "d", "type": "quantitative", "scale": {"domain": [0.955, 31.4], "nice": false, "zero": false}, "axis": null},
            "text": {"field": "label"}
          }
        }
      ]
    },
    {
      "width": 1355,
      "height": 256,
      "encoding": {
        "x": {"field": "d", "type": "quantitative", "scale": {"domain": [0.955, 31.4], "nice": false, "zero": false},
              "axis": {"orient": "bottom", "values": [1,2,3,4,5,6,7,8,9,10,11,12,13,14,15,16,17,18,19,20,21,22,23,24,25,26,27,28,29,30,31], "labelPadding": 5, "title": "Date", "titlePadding": 4, "domain": true, "labelFlush": false, "labelOverlap": false}},
        "y": {"field": "t", "type": "quantitative", "scale": {"domain": [15, 34.75], "nice": false, "zero": false},
              "axis": {"orient": "left", "values": [15,17,19,21,23,25,27,29,31,33], "labelPadding": 10, "title": null}}
      },
      "layer": [
        {
          "data": {"name": "fringe"},
          "transform": [{"filter": "datum.s == 'C' || datum.s == 'D'"}],
          "mark": {"type": "line", "strokeWidth": 3.4, "clip": true, "strokeJoin": "round"},
          "encoding": {
            "detail": {"field": "g"},
            "color": {"field": "c", "type": "nominal", "legend": null,
                      "scale": {"domain": ["blue","orange","yellow","lightblue","green","gray"], "range": ["#1F4A8A","#E8792B","#F2C12E","#5DA5DA","#6BAF47","#A0A0A0"]}}
          }
        },
        {
          "data": {"name": "main"},
          "transform": [{"filter": "datum.s == 'C' || datum.s == 'D'"}],
          "mark": {"type": "line", "strokeWidth": 4.2, "color": "#94773A", "clip": true, "strokeJoin": "round"},
          "encoding": {
            "detail": {"field": "s"}
          }
        },
        {
          "data": {"name": "labels"},
          "transform": [{"filter": "datum.s == 'bot'"}],
          "mark": {"type": "text", "align": "left", "baseline": "middle", "font": "Lato", "fontSize": 16.5, "color": "#111"},
          "encoding": {
            "text": {"field": "label"}
          }
        }
      ]
    }
  ]
}
